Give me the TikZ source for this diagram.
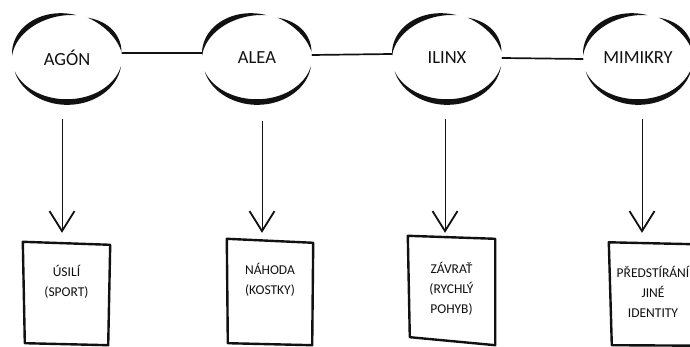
\documentclass[tikz,border=0pt]{standalone}
\usepackage{fontspec}
\setmainfont{Carlito}
\usetikzlibrary{arrows.meta,shapes.geometric}
\definecolor{ink}{HTML}{111111}
% tapered hand-drawn arc around a named node: #1 node, #2 start angle, #3 end angle, #4 max width
\newcommand\taperarc[4]{%
  \fill[ink,shift={(#1.center)}]
    plot[domain=#2:#3,samples=40]
      ({(55+0.6*#4*sin(180/((#3)-(#2))*(\x-(#2))))*cos(\x)},{(43.5+0.6*#4*sin(180/((#3)-(#2))*(\x-(#2))))*sin(\x)})
    -- plot[domain=#3:#2,samples=40]
      ({(55-0.4*#4*sin(180/((#3)-(#2))*(\x-(#2))))*cos(\x)},{(43.5-0.4*#4*sin(180/((#3)-(#2))*(\x-(#2))))*sin(\x)})
    -- cycle;}
\newcommand\sketchell[1]{%
  \taperarc{#1}{80}{177}{5.2}%
  \taperarc{#1}{8}{68}{4.2}%
  \taperarc{#1}{198}{349}{5.6}}
\tikzset{
  ell/.style={ellipse, minimum width=110pt, minimum height=87pt, inner sep=0pt,
    text=ink, font=\fontsize{18.5}{22}\selectfont},
  conn/.style={draw=ink, line width=1.7pt, line cap=round},
  arr/.style={draw=ink, line width=0.9pt,
    -{Straight Barb[length=20pt,width=25pt,line width=1.8pt]}},
  card/.style={rectangle, inner sep=0pt, text=ink, font=\fontsize{13.5}{20}\selectfont},
  frame/.style={draw=ink, line width=2.4pt, line join=round}
}
\newcommand\cardtext[4]{\parbox[c][#1pt][t]{#2pt}{\centering\rule{0pt}{#3pt}#4}}
\begin{document}
\begin{tikzpicture}[x=1pt,y=1pt]
\useasboundingbox (0,0) rectangle (690,347);
\fill[white] (0,0) rectangle (690,347);
\clip (0,0) rectangle (690,347);

% circles
\node[ell] (agon)    at (67,289)  {AGÓN};
\node[ell] (alea)    at (257,289) {ALEA};
\node[ell] (ilinx)   at (447,289) {ILINX};
\node[ell] (mimikry) at (638,289) {MIMIKRY};
\sketchell{agon}
\sketchell{alea}
\sketchell{ilinx}
\sketchell{mimikry}

% connectors
\draw[conn] ([yshift=5pt]agon.east) -- ([yshift=5pt]alea.west);
\draw[conn] ([yshift=3pt]alea.east) -- ([yshift=4pt]ilinx.west);
\draw[conn] (ilinx.east) -- ([yshift=-1pt]mimikry.west);

% cards
\node[card] (usili)  at (66.5,53) {\cardtext{103}{87}{34}{ÚSILÍ\\(SPORT)}};
\node[card] (nahoda) at (270,55)  {\cardtext{103}{87}{34}{NÁHODA\\(KOSTKY)}};
\node[card] (zavrat) at (451.5,56){\cardtext{106}{87}{36}{ZÁVRAŤ\\(RYCHLÝ\\POHYB)}};
\node[card] (predst) at (653,53)  {\cardtext{103}{88}{35}{PŘEDSTÍRÁNÍ\\JINÉ\\IDENTITY}};

\draw[frame] ([shift={(0,0.5)}]usili.north west) -- ([shift={(0,-2.5)}]usili.north east)
  -- ([shift={(-2,0.5)}]usili.south east) -- ([shift={(2,2.5)}]usili.south west) -- cycle;
\draw[frame] ([shift={(0.5,1.5)}]nahoda.north west) -- ([shift={(-0.5,-2.5)}]nahoda.north east)
  -- ([shift={(-1.5,-1.5)}]nahoda.south east) -- ([shift={(1.5,0.5)}]nahoda.south west) -- cycle;
\draw[frame] ([shift={(0,2)}]zavrat.north west) -- ([shift={(0,-1)}]zavrat.north east)
  -- ([shift={(0,-1)}]zavrat.south east) -- ([shift={(2,7)}]zavrat.south west) -- cycle;
\draw[frame] ([shift={(0,0)}]predst.north west) -- ([shift={(0,-2)}]predst.north east)
  -- ([shift={(0,0)}]predst.south east) -- ([shift={(3,0.5)}]predst.south west) -- cycle;

% arrows
\draw[arr] ([xshift=-5pt,yshift=-17pt]agon.south) -- ([xshift=-5pt,yshift=9.5pt]agon.south |- usili.north);
\draw[arr] ([xshift=5pt,yshift=-19pt]alea.south) -- ([xshift=5pt,yshift=7.5pt]alea.south |- nahoda.north);
\draw[arr] ([xshift=-2pt,yshift=-17pt]ilinx.south) -- ([xshift=-2pt,yshift=5pt]ilinx.south |- zavrat.north);
\draw[arr] ([xshift=4pt,yshift=-17pt]mimikry.south) -- ([xshift=4pt,yshift=9.5pt]mimikry.south |- predst.north);
\end{tikzpicture}
\end{document}
